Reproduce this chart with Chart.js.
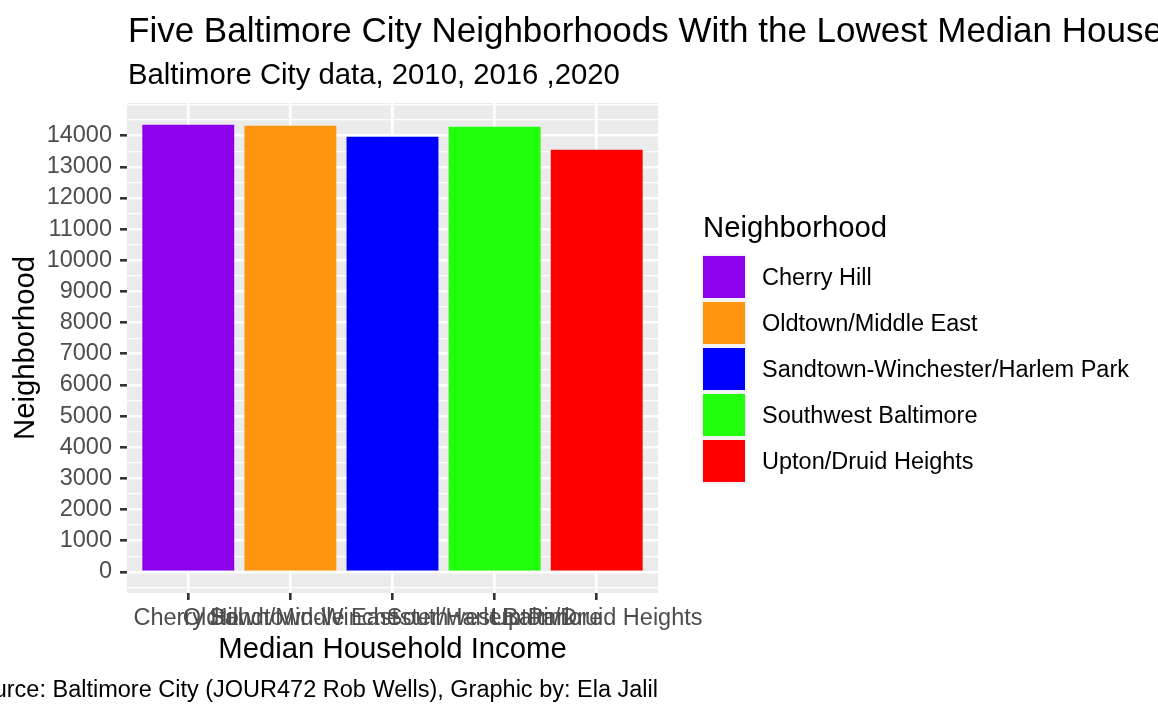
<!DOCTYPE html>
<html>
<head>
<meta charset="utf-8">
<script src="https://cdn.jsdelivr.net/npm/chart.js@4.4.1/dist/chart.umd.min.js"></script>
<style>
  html, body { margin: 0; padding: 0; background: #ffffff; }
  canvas { display: block; }
</style>
</head>
<body>
<canvas id="c" width="1158" height="715"></canvas>
<script>
// ---- data ----
const categories = ["Cherry Hill", "Oldtown/Middle East", "Sandtown-Winchester/Harlem Park", "Southwest Baltimore", "Upton/Druid Heights"];
const incomeValues = [14355, 14323, 13970, 14291, 13553];
const barColors = ["#8D00EC", "#FF940F", "#0000FF", "#22FF0C", "#FF0000"];
const yTickLabels = [0, 1000, 2000, 3000, 4000, 5000, 6000, 7000, 8000, 9000, 10000, 11000, 12000, 13000, 14000];
const yLimits = [-680, 15050];
const titleText = "Five Baltimore City Neighborhoods With the Lowest Median Household Income";
const subtitleText = "Baltimore City data, 2010, 2016 ,2020";
const xAxisTitle = "Median Household Income";
const yAxisTitle = "Neighborhood";
const legendTitle = "Neighborhood";
const captionText = "Source: Baltimore City (JOUR472 Rob Wells), Graphic by: Ela Jalil";
const yMinorStep = 500;

const FONT = '"Liberation Sans", Arial, Helvetica, sans-serif';
const isMajor = (v) => yTickLabels.includes(v);

const ggPlugin = {
  id: 'gg',
  beforeDraw(chart) {
    const ctx = chart.ctx, a = chart.chartArea;
    ctx.save();
    ctx.fillStyle = '#ffffff';
    ctx.fillRect(0, 0, chart.width, chart.height);
    ctx.fillStyle = '#EBEBEB';
    ctx.fillRect(a.left, a.top, a.right - a.left, a.bottom - a.top);
    ctx.restore();
  },
  afterDraw(chart) {
    const ctx = chart.ctx, a = chart.chartArea;
    ctx.save();
    ctx.fillStyle = '#000000';
    ctx.textBaseline = 'alphabetic';
    // title & subtitle
    ctx.textAlign = 'left';
    ctx.font = '35px ' + FONT;
    ctx.fillText(titleText, a.left + 1, 42);
    ctx.font = '29.3px ' + FONT;
    ctx.fillText(subtitleText, a.left + 1, 84);
    // x axis title
    ctx.textAlign = 'center';
    ctx.fillText(xAxisTitle, (a.left + a.right) / 2, 658);
    // y axis title
    ctx.save();
    ctx.translate(34, (a.top + a.bottom) / 2);
    ctx.rotate(-Math.PI / 2);
    ctx.textAlign = 'center';
    ctx.fillText(yAxisTitle, 0, 0);
    ctx.restore();
    // caption
    ctx.textAlign = 'right';
    ctx.font = '23.5px ' + FONT;
    ctx.fillText(captionText, a.right, 697);
    // legend
    const lx = 703, ly0 = 256, key = 42, step = 46;
    ctx.textAlign = 'left';
    ctx.font = '29.3px ' + FONT;
    ctx.fillText(legendTitle, lx, 237);
    ctx.fillStyle = '#F2F2F2';
    ctx.fillRect(lx - 1.5, ly0 - 2, key + 3, step * categories.length);
    ctx.font = '23.5px ' + FONT;
    categories.forEach((name, i) => {
      const y = ly0 + i * step;
      ctx.fillStyle = barColors[i];
      ctx.fillRect(lx, y, key, key);
      ctx.fillStyle = '#000000';
      ctx.fillText(name, 762, y + key / 2 + 8.4);
    });
    ctx.restore();
  }
};

new Chart(document.getElementById('c'), {
  type: 'bar',
  data: {
    datasets: [{
      data: incomeValues.map((v, i) => ({ x: i, y: v })),
      backgroundColor: barColors,
      borderWidth: 0,
      barPercentage: 0.9,
      categoryPercentage: 1.0
    }]
  },
  options: {
    responsive: false,
    devicePixelRatio: 1,
    animation: false,
    events: [],
    layout: { padding: { top: 103, right: 500, bottom: 0, left: 0 } },
    plugins: { legend: { display: false }, tooltip: { enabled: false }, title: { display: false } },
    scales: {
      x: {
        type: 'linear',
        offset: false,
        min: -0.6,
        max: categories.length - 0.4,
        afterBuildTicks(scale) { scale.ticks = categories.map((c, i) => ({ value: i })); },
        afterFit(scale) { scale.height = 122; },
        border: { display: false },
        grid: { offset: false, color: '#ffffff', lineWidth: 2.6, tickColor: '#333333', tickWidth: 2.6, tickLength: 7, drawTicks: true },
        ticks: {
          autoSkip: false, maxRotation: 0, minRotation: 0, padding: 4,
          color: '#4D4D4D', font: { family: FONT, size: 23.5 },
          callback: (v) => categories[v]
        }
      },
      y: {
        type: 'linear',
        min: yLimits[0],
        max: yLimits[1],
        afterBuildTicks(scale) {
          const t = [];
          for (let v = Math.ceil(yLimits[0] / yMinorStep) * yMinorStep; v <= yLimits[1]; v += yMinorStep) t.push({ value: v });
          scale.ticks = t;
        },
        afterFit(scale) { scale.width = 127; },
        border: { display: false },
        grid: {
          color: '#ffffff',
          lineWidth: (c) => (c.tick && isMajor(c.tick.value)) ? 2.6 : 1.3,
          tickColor: (c) => (c.tick && isMajor(c.tick.value)) ? '#333333' : 'rgba(0,0,0,0)',
          tickWidth: 2.6, tickLength: 7
        },
        ticks: {
          autoSkip: false, padding: 8,
          color: '#4D4D4D', font: { family: FONT, size: 23.5 },
          callback: (v) => isMajor(v) ? String(v) : ''
        }
      }
    }
  },
  plugins: [ggPlugin]
});
</script>
</body>
</html>
